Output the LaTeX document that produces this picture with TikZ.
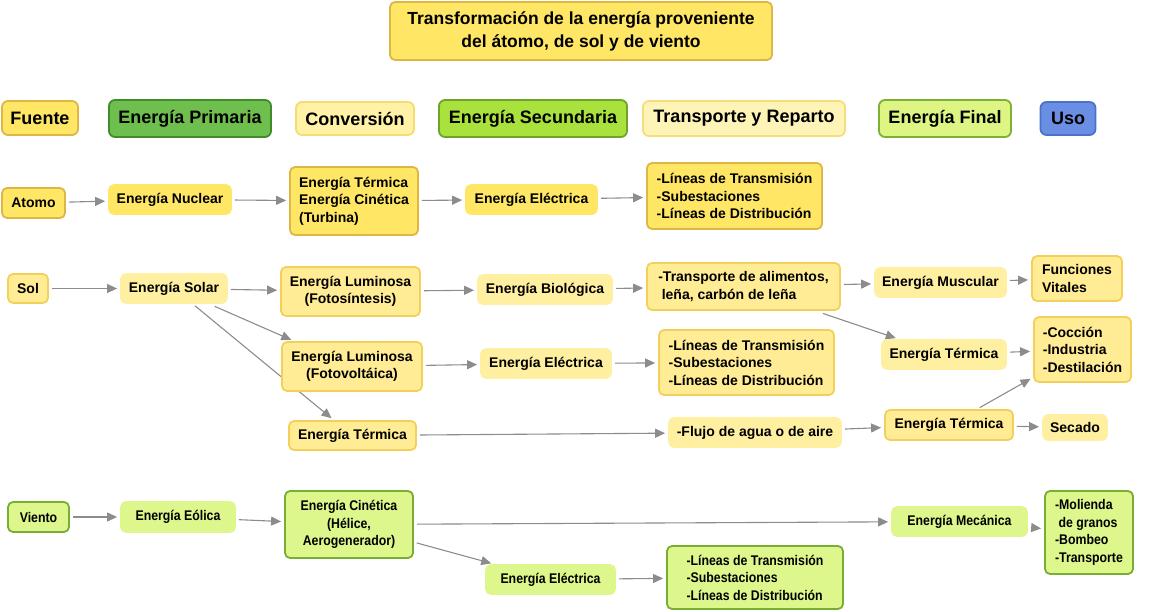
\documentclass[tikz,border=0pt]{standalone}
\usepackage{fontspec}
\setmainfont{Liberation Sans}
\newfontfamily\narrowfam{Liberation Sans}[FakeStretch=0.88]
\usetikzlibrary{arrows.meta}
\pgfdeclarelayer{bg}
\pgfsetlayers{bg,main}
\definecolor{yA}{HTML}{FFE765}
\definecolor{yAb}{HTML}{DDB644}
\definecolor{yB}{HTML}{FFEFA0}
\definecolor{yBf}{HTML}{FFEC94}
\definecolor{yBb}{HTML}{F3D05C}
\definecolor{gF}{HTML}{DEF78C}
\definecolor{gB}{HTML}{7AAD33}
\definecolor{convF}{HTML}{FFF1A6}
\definecolor{convB}{HTML}{F6DB70}
\definecolor{trF}{HTML}{FFF4B8}
\definecolor{trB}{HTML}{F6DD77}
\definecolor{primF}{HTML}{6EBF4D}
\definecolor{primB}{HTML}{3F8D2A}
\definecolor{secF}{HTML}{A9E23C}
\definecolor{secB}{HTML}{70A32C}
\definecolor{finF}{HTML}{DDF683}
\definecolor{finB}{HTML}{7EAF36}
\definecolor{usoF}{HTML}{6A8EE3}
\definecolor{usoB}{HTML}{4B72C9}
\definecolor{arrowgray}{HTML}{8C8C8C}
\newcommand\bodyfont{\fontsize{14}{17.5}\selectfont\bfseries}
\newcommand\narrowbody{\narrowfam\fontsize{14}{17.5}\selectfont\bfseries}
\newcommand\headfont{\fontsize{18}{22}\selectfont\bfseries}
\newcommand\titlefont{\fontsize{17.5}{23}\selectfont\bfseries}
\tikzset{
  box/.style={rounded corners=5pt, line width=1.8pt, font=\bodyfont, inner sep=2pt, align=center},
  ya/.style={box, fill=yA, draw=yAb},
  yan/.style={box, fill=yA, draw=yA},
  yb/.style={box, fill=yBf, draw=yBb},
  ybn/.style={box, fill=yB, draw=yB},
  gr/.style={box, fill=gF, draw=gB, font=\narrowbody},
  grn/.style={box, fill=gF, draw=gF, font=\narrowbody},
  hd/.style={rounded corners=6pt, line width=1.8pt, font=\headfont, inner sep=2pt},
  arr/.style={draw=arrowgray, line width=1.1pt, -{Triangle[length=10pt,width=9pt]}, shorten <=3pt, shorten >=3pt}
}
\begin{document}
\begin{tikzpicture}[x=1pt,y=-1pt]
\useasboundingbox (0,0) rectangle (1167,612);
% title
\node[ya, font=\titlefont, minimum width=382pt, minimum height=58pt] (title) at (581,31) {Transformación de la energía proveniente\\del átomo, de sol y de viento};
% headers
\node[hd, fill=yA, draw=yAb, minimum width=76pt, minimum height=34pt] (hfuente) at (40,118) {Fuente};
\node[hd, fill=primF, draw=primB, minimum width=162pt, minimum height=37pt] (hprim) at (190,118.5) {Energía Primaria};
\node[hd, fill=convF, draw=convB, minimum width=118pt, minimum height=33pt] (hconv) at (355,118.5) {Conversión};
\node[hd, fill=secF, draw=secB, minimum width=188pt, minimum height=37pt] (hsec) at (533,118.5) {Energía Secundaria};
\node[hd, fill=trF, draw=trB, minimum width=202pt, minimum height=35pt] (htr) at (744,118.5) {Transporte y Reparto};
\node[hd, fill=finF, draw=finB, minimum width=132pt, minimum height=37pt] (hfin) at (945,118.5) {Energía Final};
\node[hd, fill=usoF, draw=usoB, minimum width=55pt, minimum height=33pt] (huso) at (1068,118.5) {Uso};
% atomo row
\node[ya, minimum width=63pt, minimum height=30pt] (atomo) at (33.5,203) {Atomo};
\node[yan, minimum width=122pt, minimum height=29pt] (nuclear) at (170,199.5) {Energía Nuclear};
\node[ya, align=left, minimum width=128pt, minimum height=68pt] (turbina) at (354,201) {Energía Térmica\\Energía Cinética\\(Turbina)};
\node[yan, minimum width=131pt, minimum height=29pt] (elec1) at (531.5,199.5) {Energía Eléctrica};
\node[ya, align=left, minimum width=175pt, minimum height=66pt] (lin1) at (734.5,196) {-Líneas de Transmisión\\-Subestaciones\\-Líneas de Distribución};
% sol rows
\node[yb, minimum width=40pt, minimum height=29pt] (sol) at (28,288.5) {Sol};
\node[ybn, minimum width=106pt, minimum height=29pt] (solar) at (174,288.5) {Energía Solar};
\node[yb, minimum width=139pt, minimum height=49pt] (fotos) at (350.5,291.5) {Energía Luminosa\\(Fotosíntesis)};
\node[ybn, minimum width=134pt, minimum height=29pt] (bio) at (545,289.5) {Energía Biológica};
\node[yb, align=left, minimum width=193pt, minimum height=47pt] (transp) at (743.5,286.5) {-Transporte de alimentos,\\\hspace{0.25em}leña, carbón de leña};
\node[ybn, minimum width=131pt, minimum height=29pt] (musc) at (940.5,282.5) {Energía Muscular};
\node[yb, align=left, minimum width=90pt, minimum height=45pt] (func) at (1077,278.5) {Funciones\\Vitales};
\node[yb, minimum width=140pt, minimum height=49pt] (fotov) at (352,366.5) {Energía Luminosa\\(Fotovoltáica)};
\node[ybn, minimum width=130pt, minimum height=29pt] (elec2) at (546,363.5) {Energía Eléctrica};
\node[yb, align=left, minimum width=175pt, minimum height=65pt] (lin2) at (746.5,362.5) {-Líneas de Transmisión\\-Subestaciones\\-Líneas de Distribución};
\node[ybn, minimum width=124pt, minimum height=29pt] (termf1) at (944,354.5) {Energía Térmica};
\node[yb, align=left, minimum width=97pt, minimum height=65pt] (coccion) at (1082.5,349.5) {-Cocción\\-Industria\\-Destilación};
\node[yb, minimum width=127pt, minimum height=29pt] (termc) at (352.5,435.5) {Energía Térmica};
\node[ybn, minimum width=172pt, minimum height=29pt] (flujo) at (755,432.5) {-Flujo de agua o de aire};
\node[yb, minimum width=128pt, minimum height=30pt] (termf2) at (949,425) {Energía Térmica};
\node[ybn, minimum width=64pt, minimum height=25pt] (secado) at (1075,427.5) {Secado};
% viento rows
\node[gr, minimum width=61pt, minimum height=30pt] (viento) at (38.5,517) {Viento};
\node[grn, minimum width=114pt, minimum height=30pt] (eolica) at (178,517) {Energía Eólica};
\node[gr, minimum width=128pt, minimum height=67pt] (cinet) at (349,524.5) {Energía Cinética\\(Hélice,\\Aerogenerador)};
\node[grn, minimum width=135pt, minimum height=29pt] (mecan) at (959.5,521.5) {Energía Mecánica};
\node[gr, align=left, minimum width=88pt, minimum height=83pt] (molienda) at (1089,532.5) {-Molienda\\\hspace{0.25em}de granos\\-Bombeo\\-Transporte};
\node[grn, minimum width=129pt, minimum height=29pt] (elec3) at (550.5,579.5) {Energía Eléctrica};
\node[gr, align=left, minimum width=176pt, minimum height=63pt] (lin3) at (755,577.5) {-Líneas de Transmisión\\-Subestaciones\\-Líneas de Distribución};
% connectors
\begin{pgfonlayer}{bg}
\draw[arr] (atomo) -- (nuclear);
\draw[arr] (nuclear) -- (turbina);
\draw[arr] (turbina) -- (elec1);
\draw[arr] (elec1) -- (lin1);
\draw[arr] (sol) -- (solar);
\draw[arr] (solar) -- (fotos);
\draw[arr, shorten <=6pt] (solar) -- (fotov);
\draw[arr] (solar) -- (termc);
\draw[arr] (fotos) -- (bio);
\draw[arr] (bio) -- (transp);
\draw[arr] (transp) -- (musc);
\draw[arr, shorten <=8pt] (transp) -- (termf1);
\draw[arr] (musc) -- (func);
\draw[arr] (termf1) -- (coccion);
\draw[arr] (fotov) -- (elec2);
\draw[arr] (elec2) -- (lin2);
\draw[arr] (termc) -- (flujo);
\draw[arr] (flujo) -- (termf2);
\draw[arr] (termf2) -- (coccion);
\draw[arr] (termf2) -- (secado);
\draw[arr] (viento) -- (eolica);
\draw[arr] (eolica) -- (cinet);
\draw[arr] (cinet) -- (mecan);
\draw[arr] (cinet) -- (elec3);
\draw[arr] (mecan) -- (molienda);
\draw[arr] (elec3) -- (lin3);
\end{pgfonlayer}
\end{tikzpicture}
\end{document}
